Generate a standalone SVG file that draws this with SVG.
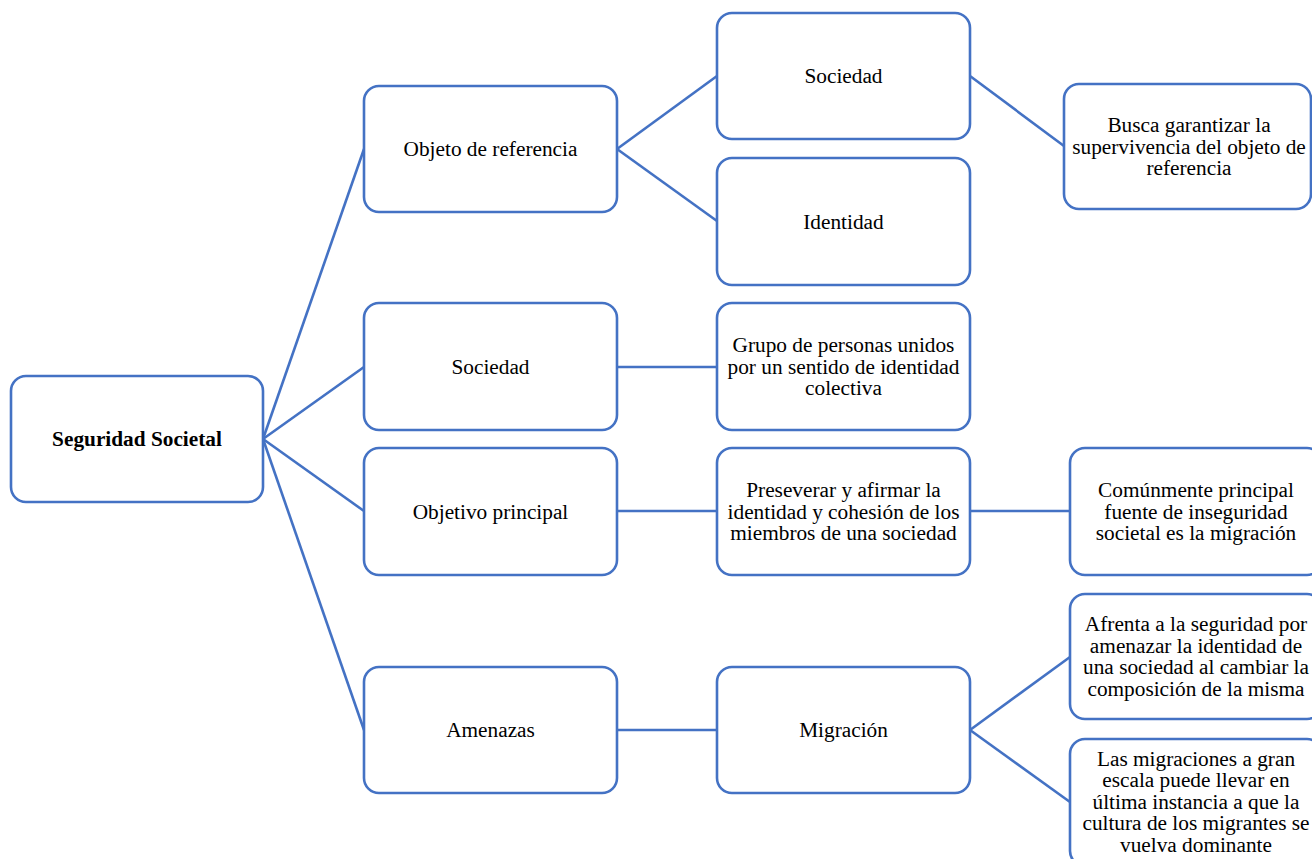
<svg xmlns="http://www.w3.org/2000/svg" width="1312" height="859" viewBox="0 0 1312 859">
<style>
.box{fill:#ffffff;stroke:#4472C4;stroke-width:2.6}
.con{stroke:#4472C4;stroke-width:2.6;fill:none}
.t text{font-family:'Liberation Serif','Times New Roman',Times,'DejaVu Serif',serif;font-size:21.3px;fill:#000000;text-anchor:middle}
.b{font-weight:bold}
</style>
<rect width="1312" height="859" fill="#ffffff"/>
<g id="connectors">
<line class="con" x1="263" y1="439" x2="364" y2="149"/>
<line class="con" x1="263" y1="439" x2="364" y2="367"/>
<line class="con" x1="263" y1="439" x2="364" y2="511"/>
<line class="con" x1="263" y1="439" x2="364" y2="730"/>
<line class="con" x1="617" y1="149" x2="717" y2="76"/>
<line class="con" x1="617" y1="149" x2="717" y2="221"/>
<line class="con" x1="617" y1="367" x2="717" y2="367"/>
<line class="con" x1="617" y1="511" x2="717" y2="511"/>
<line class="con" x1="970" y1="511" x2="1070" y2="511"/>
<line class="con" x1="617" y1="730" x2="717" y2="730"/>
<line class="con" x1="970" y1="730" x2="1070" y2="657"/>
<line class="con" x1="970" y1="730" x2="1070" y2="802"/>
<line class="con" x1="970" y1="76" x2="1064" y2="146"/>
</g>
<g class="t" font-family="Liberation Serif, serif">
<g id="root">
<rect class="box" x="11" y="376" width="252" height="126" rx="15"/>
<text class="b" x="137" y="446">Seguridad Societal</text>
</g>
<g id="objeto">
<rect class="box" x="364" y="86" width="253" height="126" rx="15"/>
<text x="490.5" y="156">Objeto de referencia</text>
</g>
<g id="sociedad1">
<rect class="box" x="364" y="303" width="253" height="127" rx="15"/>
<text x="490.5" y="373.5">Sociedad</text>
</g>
<g id="objetivo">
<rect class="box" x="364" y="448" width="253" height="127" rx="15"/>
<text x="490.5" y="518.5">Objetivo principal</text>
</g>
<g id="amenazas">
<rect class="box" x="364" y="667" width="253" height="126" rx="15"/>
<text x="490.5" y="737">Amenazas</text>
</g>
<g id="sociedad2">
<rect class="box" x="717" y="13" width="253" height="126" rx="15"/>
<text x="843.5" y="83">Sociedad</text>
</g>
<g id="identidad">
<rect class="box" x="717" y="158" width="253" height="127" rx="15"/>
<text x="843.5" y="228.5">Identidad</text>
</g>
<g id="grupo">
<rect class="box" x="717" y="303" width="253" height="127" rx="15"/>
<text x="843.5" y="352">Grupo de personas unidos</text>
<text x="843.5" y="373.5">por un sentido de identidad</text>
<text x="843.5" y="395">colectiva</text>
</g>
<g id="preseverar">
<rect class="box" x="717" y="448" width="253" height="127" rx="15"/>
<text x="843.5" y="497">Preseverar y afirmar la</text>
<text x="843.5" y="518.5">identidad y cohesión de los</text>
<text x="843.5" y="540">miembros de una sociedad</text>
</g>
<g id="migracion">
<rect class="box" x="717" y="667" width="253" height="126" rx="15"/>
<text x="843.5" y="737">Migración</text>
</g>
<g id="busca">
<rect class="box" x="1064" y="84" width="247" height="125" rx="15"/>
<text x="1189" y="132">Busca garantizar la</text>
<text x="1189" y="153.5">supervivencia del objeto de</text>
<text x="1189" y="175">referencia</text>
</g>
<g id="comunmente">
<rect class="box" x="1070" y="448" width="252" height="127" rx="15"/>
<text x="1196" y="497">Comúnmente principal</text>
<text x="1196" y="518.5">fuente de inseguridad</text>
<text x="1196" y="540">societal es la migración</text>
</g>
<g id="afrenta">
<rect class="box" x="1070" y="594" width="252" height="125" rx="15"/>
<text x="1196" y="631">Afrenta a la seguridad por</text>
<text x="1196" y="652.5">amenazar la identidad de</text>
<text x="1196" y="674">una sociedad al cambiar la</text>
<text x="1196" y="695.5">composición de la misma</text>
</g>
<g id="migraciones">
<rect class="box" x="1070" y="739" width="252" height="127" rx="15"/>
<text x="1196" y="765.5">Las migraciones a gran</text>
<text x="1196" y="787">escala puede llevar en</text>
<text x="1196" y="808.5">última instancia a que la</text>
<text x="1196" y="830">cultura de los migrantes se</text>
<text x="1196" y="851.5">vuelva dominante</text>
</g>
</g>
</svg>
